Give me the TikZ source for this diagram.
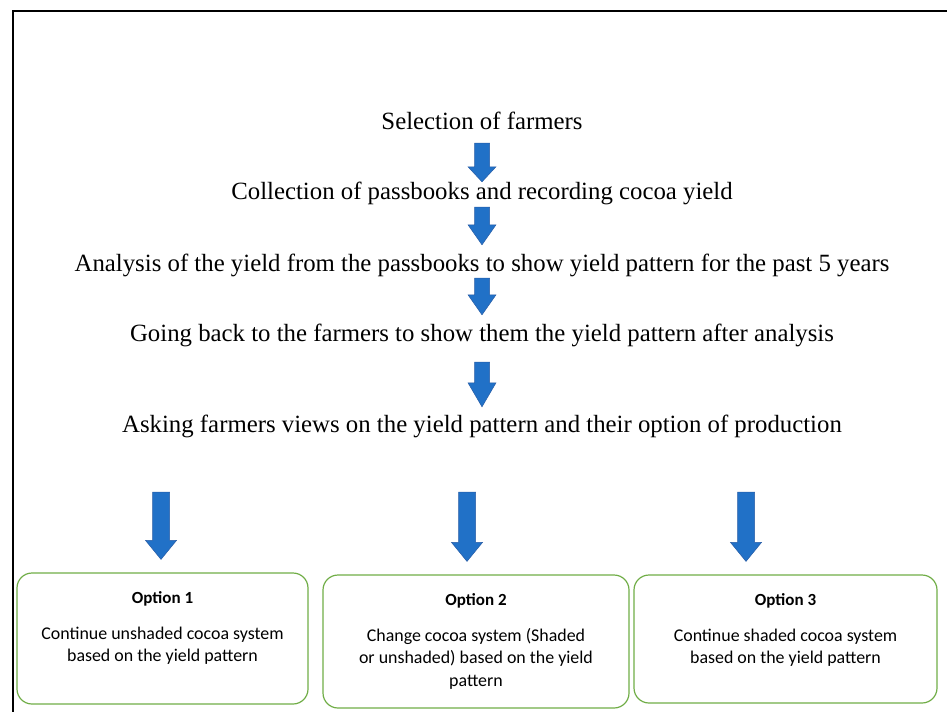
\documentclass[tikz,border=0pt]{standalone}
\usepackage{fontspec}
\setmainfont{Liberation Serif}
\setsansfont{Carlito}
\usetikzlibrary{calc}

\definecolor{arrowblue}{RGB}{33,113,199}
\definecolor{arrowedge}{RGB}{40,92,165}
\definecolor{boxgreen}{RGB}{112,173,71}

\newcommand{\opttext}[4]{\parbox[c][#2][t]{#1}{\centering\vspace*{19pt}%
    {\bfseries\fontsize{17}{22}\selectfont #3}\\[13pt]#4}}

\begin{document}
\begin{tikzpicture}[ x=1pt, y=-1pt,
        stage/.style={ font=\fontsize{24.8}{28}\selectfont, inner sep=0pt,
          text height=17pt, text depth=6pt, anchor=base },
        flow/.style n args={3}{ fill=arrowblue, draw=arrowedge, line width=.5pt,
          to path={ let \p1=(\tikztostart), \p2=(\tikztotarget) in
            (\x1-#1,\y1) -- (\x1+#1,\y1) -- (\x1+#1,\y2+#3) -- (\x1+#2,\y2+#3)
            -- (\x1,\y2) -- (\x1-#2,\y2+#3) -- (\x1-#1,\y2+#3) -- cycle } },
        option/.style={ draw=boxgreen, line width=1.2pt, rounded corners=15pt,
          inner sep=0pt, font=\sffamily\fontsize{17.9}{22.5}\selectfont } ]
        \useasboundingbox (0,0) rectangle (947,712);
        \draw[line width=1.6pt] (947,11) -- (13,11) -- (13,712);

        \foreach \n/\y/\t in {1/129/Selection of farmers,
          2/199/Collection of passbooks and recording cocoa yield,
          3/271/Analysis of the yield from the passbooks to show yield pattern for the past 5 years,
          4/341/Going back to the farmers to show them the yield pattern after analysis,
          5/432/Asking farmers views on the yield pattern and their option of production}
        \node[stage] (s\n) at (482,\y) {\t};

        \foreach \a/\b/\s/\e/\h in {1/2/8pt/0pt/15pt,2/3/2pt/9pt/20pt,
          3/4/1pt/9pt/20pt,4/5/15pt/8pt/24pt}
        \draw[flow={7.5pt}{14pt}{\h}] ([yshift=-\s]s\a.south) to ([yshift=\e]s\b.north);

        \node[option] (o1) at (162.5,638.5) {\opttext{291pt}{131pt}{Option 1}{Continue
            unshaded cocoa system\\ based on the yield pattern}};
        \node[option] (o2) at (476,641.5) {\opttext{306pt}{133pt}{Option 2}{Change
            cocoa system (Shaded\\ or unshaded) based on the yield\\ pattern}};
        \node[option] (o3) at (785.5,639) {\opttext{303pt}{128pt}{Option 3}{Continue
            shaded cocoa system\\ based on the yield pattern}};

        \foreach \n/\x in {1/161,2/467,3/746}{
          \coordinate (p\n) at (\x,492);
          \draw[flow={8.5pt}{15.5pt}{19pt}] (p\n) to ([yshift=13pt]p\n |- o\n.north);
        }
      \end{tikzpicture}
\end{document}
